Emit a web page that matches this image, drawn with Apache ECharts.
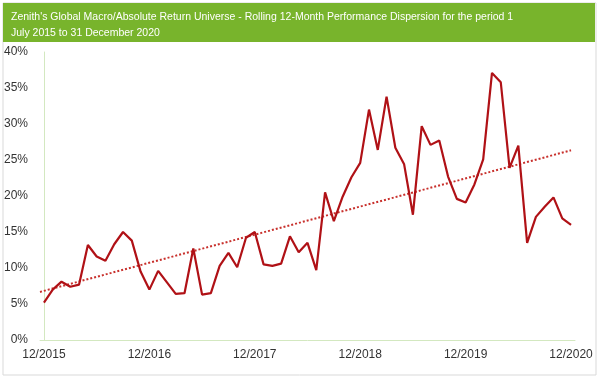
<!DOCTYPE html>
<html>
<head>
<meta charset="utf-8">
<script src="https://cdn.jsdelivr.net/npm/echarts@6/dist/echarts.min.js"></script>
<style>
html,body{margin:0;padding:0;background:#fff;}
#chart{width:600px;height:378px;}
</style>
</head>
<body>
<div id="chart"></div>
<script>
// Rolling 12-month dispersion (%), monthly from 12/2015 to 12/2020
var dispersion = [5.2, 7.0, 8.1, 7.4, 7.7, 13.2, 11.6, 11.0, 13.3, 15.0, 13.8, 9.5, 7.0,
  9.6, 8.0, 6.4, 6.5, 12.7, 6.3, 6.5, 10.3, 12.1, 10.1, 14.2, 15.0,
  10.5, 10.3, 10.6, 14.4, 12.2, 13.5, 9.7, 20.5, 16.5, 19.9, 22.6, 24.6,
  32.0, 26.4, 33.8, 26.7, 24.4, 17.4, 29.7, 27.1, 27.7, 22.7, 19.6, 19.1,
  21.6, 25.1, 37.1, 35.8, 23.9, 27.0, 13.5, 17.1, 18.5, 19.8, 16.9, 16.0];
var tickLabels = ['12/2015', '12/2016', '12/2017', '12/2018', '12/2019', '12/2020'];
var tickPositions = [0, 12, 24, 36, 48, 60];
var yTicks = [0, 5, 10, 15, 20, 25, 30, 35, 40];
var titleText = "Zenith's Global Macro/Absolute Return Universe - Rolling 12-Month Performance Dispersion for the period 1\nJuly 2015 to 31 December 2020";

var X_MIN = -0.45, X_MAX = 60.45;

var lineData = dispersion.map(function (v, i) { return [i, v]; });

// Linear trendline (least squares) from the series
var n = dispersion.length, sx = 0, sy = 0, sxy = 0, sxx = 0;
dispersion.forEach(function (v, i) { sx += i; sy += v; sxy += i * v; sxx += i * i; });
var slope = (n * sxy - sx * sy) / (n * sxx - sx * sx);
var icpt = (sy - slope * sx) / n;
var trendData = [[X_MIN, icpt + slope * X_MIN], [n - 1, icpt + slope * (n - 1)]];

var chart = echarts.init(document.getElementById('chart'), null, {renderer: 'canvas'});
var FONT = 'Liberation Sans, Arial, Helvetica, sans-serif';
chart.setOption({
  animation: false,
  backgroundColor: '#fff',
  graphic: [
    {type: 'rect', left: 2.5, top: 2.5, shape: {width: 593, height: 372},
     style: {fill: '#fff', stroke: '#d9d9d9', lineWidth: 1}, z: -10},
    {type: 'rect', left: 3, top: 3, shape: {width: 592, height: 39},
     style: {fill: '#78b42c'}, z: -5}
  ],
  title: {
    text: titleText,
    left: 6, top: 3.5,
    textStyle: {color: '#fff', fontSize: 10.5, fontWeight: 'normal', fontFamily: FONT, lineHeight: 16.5}
  },
  grid: {left: 40, right: 25, top: 52, bottom: 38, containLabel: false},
  xAxis: {
    type: 'value', min: X_MIN, max: X_MAX,
    axisLine: {show: true, lineStyle: {color: '#d3e8c0', width: 1}},
    axisTick: {show: false},
    splitLine: {show: false},
    axisLabel: {
      customValues: tickPositions,
      color: '#333', fontSize: 12, fontFamily: FONT, margin: 9,
      formatter: function (v) { var k = tickPositions.indexOf(Math.round(v)); return k >= 0 ? tickLabels[k] : ''; }
    }
  },
  yAxis: {
    type: 'value', min: yTicks[0], max: yTicks[yTicks.length - 1], interval: 5,
    axisLine: {show: true, lineStyle: {color: '#d3e8c0', width: 1}},
    axisTick: {show: false},
    splitLine: {show: false},
    axisLabel: {color: '#333', fontSize: 12, fontFamily: FONT, margin: 12, formatter: '{value}%'}
  },
  series: [
    {type: 'line', data: lineData, symbol: 'none', smooth: false,
     lineStyle: {color: '#b01116', width: 2.2}, z: 3},
    {type: 'line', data: trendData, symbol: 'none',
     lineStyle: {color: '#c8302c', width: 2, type: [2, 2]}, z: 2}
  ]
});
</script>
</body>
</html>
